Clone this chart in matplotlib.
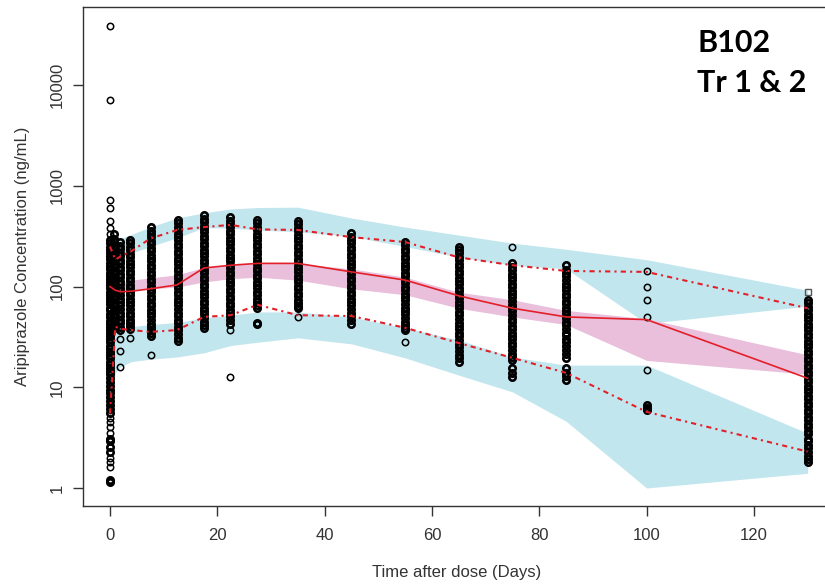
import matplotlib
matplotlib.use("Agg")
import matplotlib.pyplot as plt
import numpy as np

# ---------------- data ----------------
bin_time = [0, 1, 2, 4, 7.5, 12.5, 17.5, 22.5, 27.5, 35, 45, 55, 65, 75, 85, 100, 130]

# observed percentiles
obs_median = [100, 92, 89, 90, 95, 104, 153, 163, 170, 170, 140, 116, 81, 61, 50, 47, 12.3]
obs_p95 = [250, 185, 200, 225, 300, 365, 390, 410, 370, 365, 310, 277, 195, 163, 143, 140, 61]
obs_p05 = [5.5, 40, 38, 37, 35.5, 37, 50, 52, 66, 52, 51, 39, 27.5, 19.6, 13.9, 5.7, 2.3]

# simulated CI bands
p95_ci_hi = [260, 290, 300, 330, 390, 480, 540, 590, 610, 615, 480, 390, 325, 270, 235, 185, 92]
p95_ci_lo = [190, 190, 195, 215, 250, 305, 385, 380, 365, 350, 315, 250, 196, 163, 150, 43, 64]
med_ci_hi = [102, 105, 108, 116, 122, 131, 155, 165, 170, 170, 150, 124, 88, 74, 58, 48, 21]
med_ci_lo = [96, 94, 92, 92, 95, 99, 111, 120, 124, 116, 95, 83, 61, 50, 42, 18.5, 13.5]
p05_ci_hi = [35, 37, 38, 40, 42, 44, 49, 52, 56, 56, 50, 39, 29.5, 20, 16.6, 16.6, 3.5]
p05_ci_lo = [4.5, 14, 16, 18, 19, 20, 22, 26, 28, 31, 27, 19.6, 13.2, 9, 4.6, 1.0, 1.4]

# observed concentrations by nominal sampling time
obs_time = [0, 0.8, 1.9, 3.8, 7.6, 12.6, 17.5, 22.4, 27.4, 35, 45, 55, 65, 75, 85, 100, 130]
obs_d0 = [39000, 7100, 720, 600, 450, 380, 330, 290, 270, 250, 232, 215, 200, 186, 173, 160,
          149, 138, 128, 119, 111, 103, 96, 89, 83, 77, 72, 67, 62, 58, 54, 50, 46, 43, 40,
          37, 34.5, 32, 30, 28, 26, 24, 22.5, 21, 19.5, 18, 16.8, 15.6, 14.5, 13.5, 12.5,
          11.3, 10.3, 9.5, 8.7, 8.0, 7.3, 6.7, 6.1, 5.6, 5.0, 4.5, 4.0, 3.5, 3.1, 2.9,
          2.55, 2.3, 2.0, 1.8, 1.6, 1.2, 1.15]
obs_d1 = [330, 300, 275, 255, 235, 215, 198, 183, 168, 155, 143, 132, 122, 112, 104, 96,
          88, 81, 75, 69, 64, 59, 54, 50, 46, 42, 39]
obs_d2 = [277, 255, 235, 217, 200, 185, 170, 157, 145, 134, 124, 114, 105, 97, 90, 83, 76,
          70, 65, 60, 55, 51, 47, 44, 40, 37, 30, 23, 16]
obs_d4 = [290, 268, 248, 230, 212, 196, 181, 167, 155, 143, 132, 122, 113, 104, 96, 89, 82,
          76, 70, 65, 60, 55, 51, 47, 44, 41, 38, 31]
obs_d7 = [390, 360, 333, 308, 285, 263, 243, 225, 208, 192, 178, 164, 152, 140, 130, 120,
          111, 102, 95, 88, 81, 75, 69, 64, 59, 55, 51, 47, 43, 40, 37, 35, 32, 21]
obs_d12 = [460, 425, 393, 363, 336, 310, 287, 265, 245, 227, 210, 194, 179, 166, 153, 142,
           131, 121, 112, 104, 96, 89, 82, 76, 70, 65, 60, 55, 51, 47, 44, 40, 37, 34, 31, 28.5]
obs_d17 = [510, 472, 436, 403, 373, 345, 319, 295, 273, 252, 233, 216, 200, 185, 171, 158,
           146, 135, 125, 115, 107, 99, 91, 84, 78, 72, 67, 62, 57, 53, 49, 45, 42, 39]
obs_d22 = [490, 453, 419, 388, 359, 332, 307, 284, 262, 243, 224, 208, 192, 178, 164, 152,
           141, 130, 120, 111, 103, 95, 88, 81, 75, 69, 64, 59, 55, 51, 47, 43, 37, 12.6]
obs_d27 = [460, 425, 393, 363, 336, 310, 287, 265, 245, 227, 210, 194, 179, 166, 153, 142,
           131, 121, 112, 104, 96, 89, 82, 76, 70, 66, 62, 44, 43]
obs_d35 = [450, 416, 385, 356, 329, 304, 281, 260, 240, 222, 205, 190, 176, 162, 150, 139,
           128, 119, 110, 101, 94, 87, 80, 74, 69, 64, 61, 50]
obs_d45 = [340, 314, 290, 268, 248, 229, 212, 196, 181, 167, 155, 143, 132, 122, 113, 104,
           96, 89, 82, 76, 70, 65, 60, 55, 51, 47, 43]
obs_d55 = [277, 256, 237, 219, 202, 187, 173, 160, 148, 137, 126, 117, 108, 100, 92, 85, 79,
           73, 67, 62, 57, 53, 49, 45, 42, 39, 37, 28]
obs_d65 = [250, 231, 214, 198, 183, 169, 156, 144, 133, 123, 114, 105, 97, 90, 83, 77, 71,
           66, 61, 56, 52, 48, 44, 41, 38, 35, 32, 29.5, 27, 25, 23, 21, 19.5, 18]
obs_d75 = [250, 170, 157, 145, 134, 124, 115, 106, 98, 91, 84, 78, 72, 66, 61, 57, 52, 48,
           45, 41, 38, 35, 32.5, 30, 27.5, 25.5, 23.5, 21.5, 20, 18.6, 15.5, 14, 12.7]
obs_d85 = [163, 147, 136, 126, 116, 107, 99, 92, 85, 78, 72, 67, 62, 57, 53, 49, 45, 42, 38,
           35, 33, 30, 28, 25.5, 23.5, 21.5, 19.5, 15.5, 14, 13, 11.8]
obs_d100 = [143, 99, 74, 50, 14.8, 6.7, 6.3, 5.95]
obs_d130 = [73, 68, 63, 58.5, 54, 50, 46.5, 43, 40, 37, 34, 31.5, 29, 27, 25, 23, 21.3, 19.7,
            18.2, 16.8, 15.5, 14.3, 13.2, 12.2, 11.3, 10.4, 9.6, 8.9, 8.2, 7.6, 7.0, 6.5, 6.0,
            5.5, 5.1, 4.7, 4.3, 4.0, 3.7, 3.4, 3.1, 2.9, 2.7, 2.5, 2.3, 2.1, 1.95, 1.8]
obs_blq_time = [130]
obs_blq_value = [89]

obs_columns = [obs_d0, obs_d1, obs_d2, obs_d4, obs_d7, obs_d12, obs_d17, obs_d22, obs_d27,
               obs_d35, obs_d45, obs_d55, obs_d65, obs_d75, obs_d85, obs_d100, obs_d130]

x_ticks = [0, 20, 40, 60, 80, 100, 120]
y_ticks = [1, 10, 100, 1000, 10000]
y_ticklabels = ["1", "10", "100", "1000", "10000"]

# ---------------- figure ----------------
plt.rcParams['font.family'] = ['Liberation Sans', 'DejaVu Sans']

W, H = 825, 585
fig = plt.figure(figsize=(W / 100, H / 100), dpi=100)
ax_l, ax_r, ax_t, ax_b = 83, 835, 7, 506
ax = fig.add_axes([ax_l / W, 1 - ax_b / H, (ax_r - ax_l) / W, (ax_b - ax_t) / H])

blue = '#c2e6ee'
pink = '#e9bfdb'
red = '#e3202a'

ax.fill_between(bin_time, p95_ci_lo, p95_ci_hi, color=blue, lw=0, zorder=1)
ax.fill_between(bin_time, p05_ci_lo, p05_ci_hi, color=blue, lw=0, zorder=1)
ax.fill_between(bin_time, med_ci_lo, med_ci_hi, color=pink, lw=0, zorder=1)

# points that sit in a dense run get a heavier outline so the runs read as solid columns
for t, vals in zip(obs_time, obs_columns):
    lv = np.log10(np.asarray(vals, dtype=float))
    dense, sparse = [], []
    for i, v in enumerate(vals):
        others = np.delete(lv, i)
        gap = np.min(np.abs(others - lv[i])) if len(others) else 1.0
        (dense if gap < 0.045 else sparse).append(v)
    ax.plot([t] * len(dense), dense, linestyle='none', marker='o', ms=4.6,
            mfc='none', mec='black', mew=1.9, zorder=2)
    ax.plot([t] * len(sparse), sparse, linestyle='none', marker='o', ms=4.6,
            mfc='none', mec='black', mew=1.1, zorder=2)
ax.plot(obs_blq_time, obs_blq_value, linestyle='none', marker='s', ms=4.6,
        mfc='none', mec='#555555', mew=1.0, zorder=2)

ls_dash = (0, (2.5, 2, 1, 2))
ax.plot(bin_time, obs_median, color=red, lw=1.2, zorder=3)
ax.plot(bin_time, obs_p95, color=red, lw=1.5, linestyle=ls_dash, zorder=3)
ax.plot(bin_time, obs_p05, color=red, lw=1.5, linestyle=ls_dash, zorder=3)

ax.set_yscale('log')
ax.set_xlim(-5.03, 135.1)
ax.set_ylim(10 ** (-18 / 100.7), 10 ** (481 / 100.7))
ax.set_xticks(x_ticks)
ax.set_xticklabels([str(v) for v in x_ticks])
ax.set_yticks(y_ticks)
ax.set_yticklabels(y_ticklabels, rotation=90, va='center')
ax.yaxis.set_minor_locator(matplotlib.ticker.NullLocator())

ax.tick_params(axis='both', direction='out', length=7, width=1.0, color='#333333',
               labelsize=12, labelcolor='#333333')
ax.tick_params(axis='x', pad=9)
ax.tick_params(axis='y', pad=6)
for s in ax.spines.values():
    s.set_color('#333333')
    s.set_linewidth(1.0)

fig.text(457 / W, 1 - 572 / H, 'Time after dose (Days)', ha='center', va='center',
         fontsize=12, color='#333333')
fig.text(23 / W, 1 - 256 / H, 'Aripiprazole Concentration (ng/mL)', ha='center',
         va='center', rotation=90, fontsize=12, color='#333333')

fig.text(697 / W, 1 - 52 / H, 'B102', ha='left', va='baseline', fontsize=22,
         fontweight='bold', family=['Lato', 'DejaVu Sans'], color='black')
fig.text(697 / W, 1 - 92 / H, 'Tr 1 & 2', ha='left', va='baseline', fontsize=22,
         fontweight='bold', family=['Lato', 'DejaVu Sans'], color='black')

fig.savefig('out.png', dpi=100)
